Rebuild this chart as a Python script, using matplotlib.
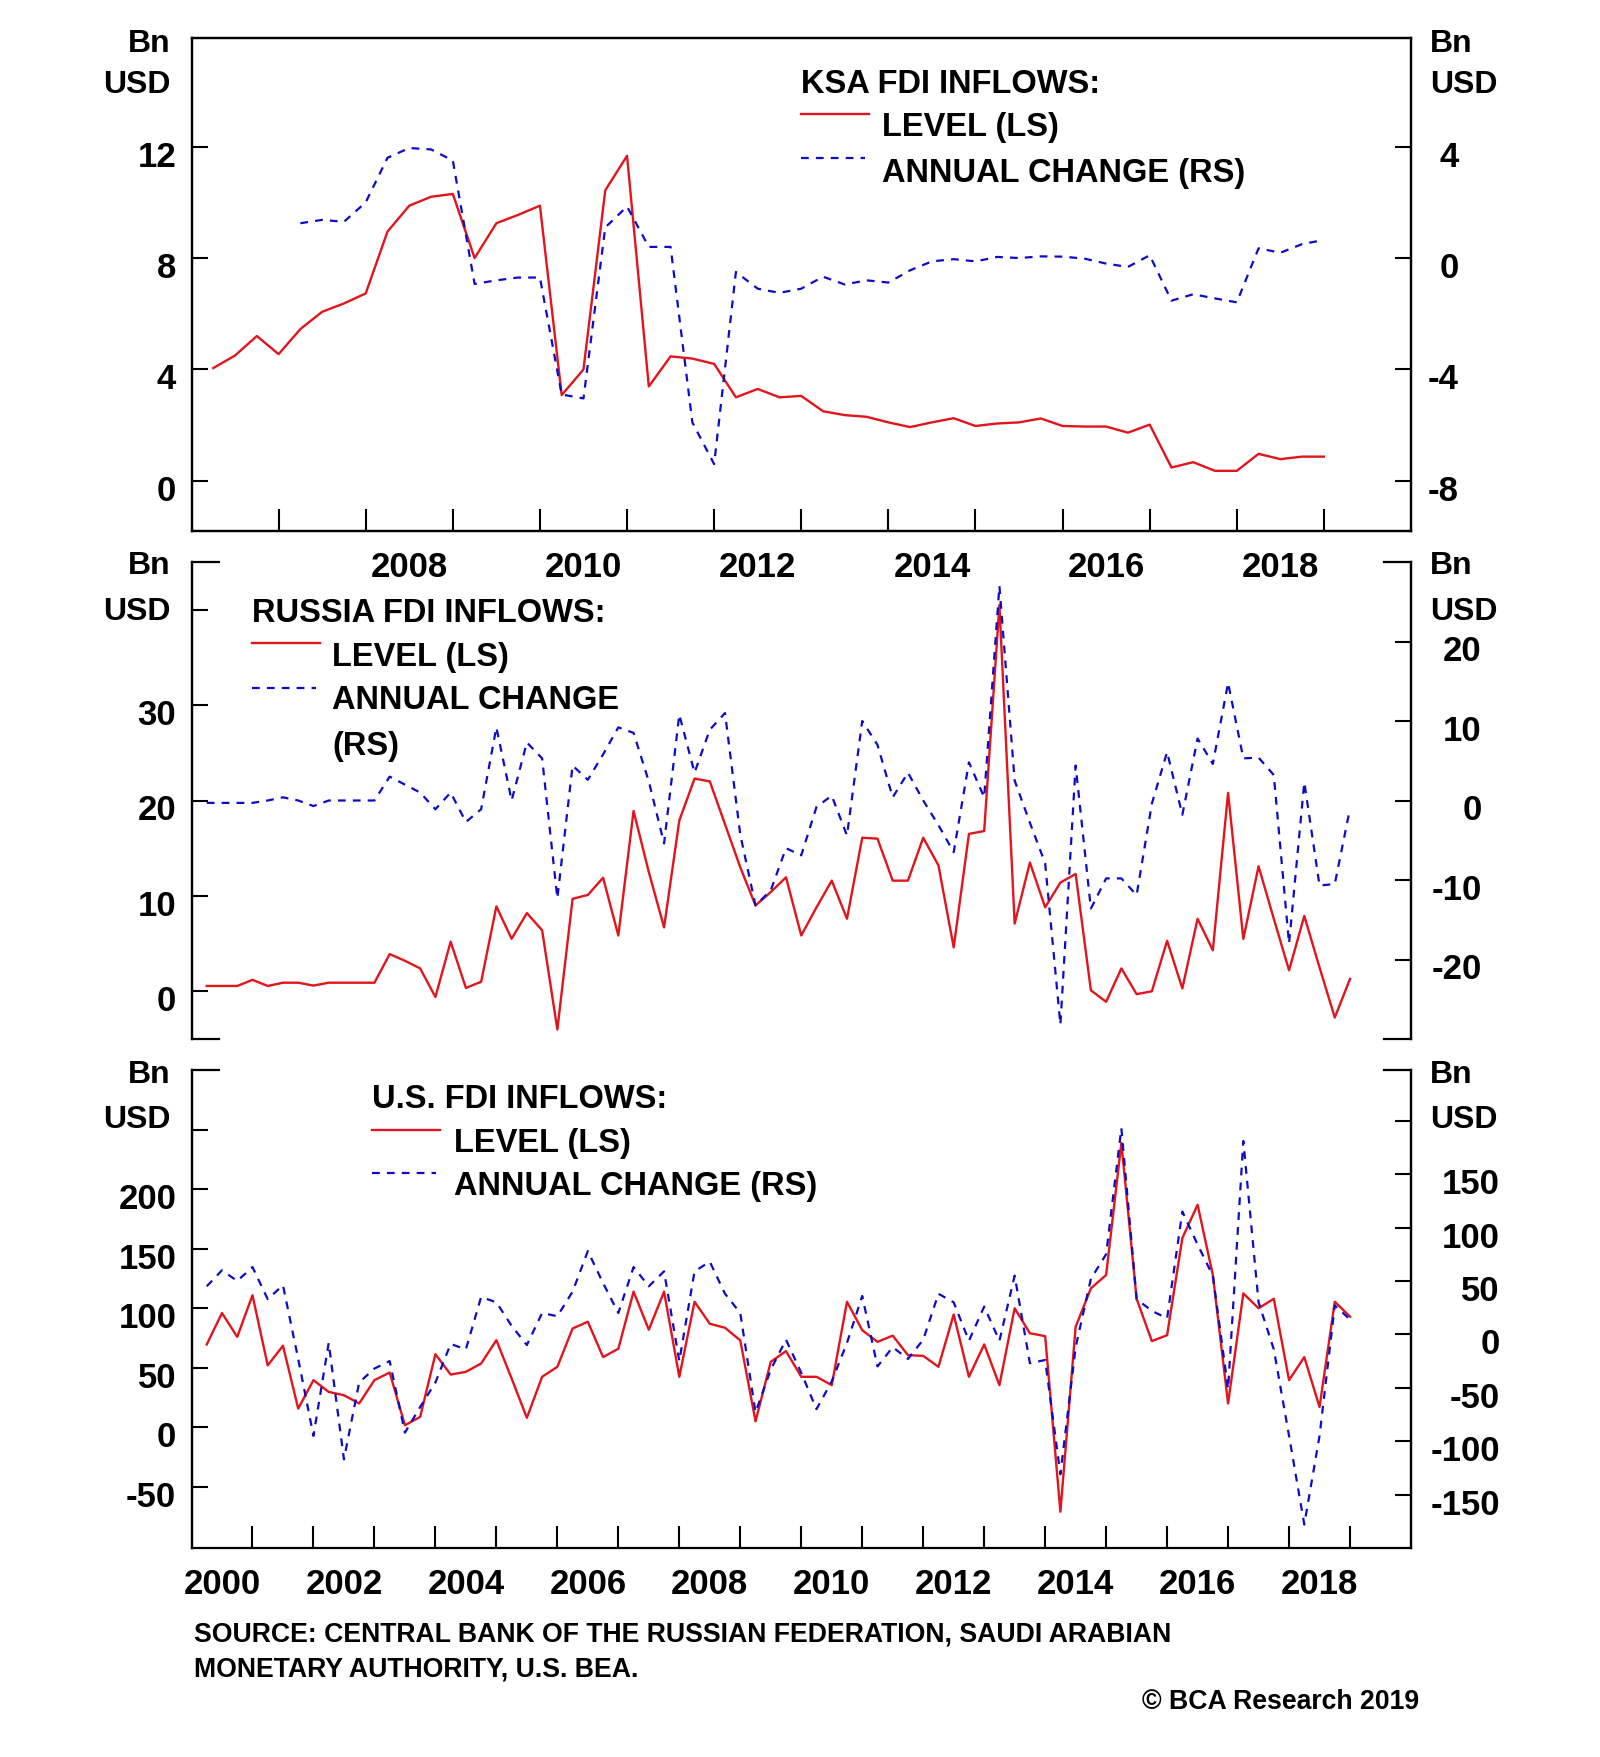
import numpy as np
import matplotlib
matplotlib.use("Agg")
import matplotlib.pyplot as plt
from matplotlib.lines import Line2D
from matplotlib.transforms import ScaledTranslation

# quarterly values, Bn USD (each row = one year, quarters 1-4)
ksa_level = [4.05, 4.5, 5.2, 4.55,
             5.45, 6.07, 6.37, 6.73,
             8.95, 9.88, 10.2, 10.3,
             8.0, 9.25, 9.55, 9.88,
             3.08, 4.0, 10.43, 11.67,
             3.39, 4.47, 4.39, 4.2,
             3.0, 3.3, 3.0, 3.05,
             2.5, 2.36, 2.3, 2.1,
             1.93, 2.1, 2.25, 1.97,
             2.06, 2.1, 2.24, 1.97,
             1.95, 1.95, 1.73, 2.02,
             0.48, 0.67, 0.36, 0.36,
             0.97, 0.78, 0.87, 0.87]
ksa_change = [1.25, 1.37, 1.3, 2.0,
              3.6, 3.95, 3.9, 3.5,
              -0.93, -0.8, -0.7, -0.7,
              -4.9, -5.04, 1.1, 1.85,
              0.4, 0.4, -5.9, -7.4,
              -0.5, -1.1, -1.25, -1.1,
              -0.67, -0.95, -0.8, -0.88,
              -0.44, -0.12, -0.04, -0.12,
              0.04, 0.0, 0.06, 0.05,
              -0.02, -0.2, -0.32, 0.1,
              -1.53, -1.3, -1.45, -1.59,
              0.35, 0.19, 0.5, 0.65]

rus_level = [0.56, 0.56, 0.56, 1.2,
             0.56, 0.9, 0.9, 0.6,
             0.9, 0.9, 0.9, 0.9,
             3.9, 3.2, 2.4, -0.6,
             5.2, 0.35, 1.0, 8.9,
             5.5, 8.2, 6.4, -4.0,
             9.7, 10.1, 11.9, 5.85,
             18.9, 12.5, 6.7, 17.9,
             22.3, 22.0, 17.5, 13.0,
             9.0, 10.4, 11.95, 5.85,
             8.8, 11.6, 7.6, 16.1,
             16.0, 11.6, 11.6, 16.1,
             13.2, 4.6, 16.5, 16.8,
             40.5, 7.1, 13.5, 8.8,
             11.4, 12.3, 0.1, -1.1,
             2.4, -0.3, 0.0, 5.3,
             0.3, 7.6, 4.3, 20.8,
             5.5, 13.1, 7.6, 2.2,
             7.9, 2.5, -2.75, 1.3]
rus_change = [-0.3, -0.3, -0.3, -0.3,
              0.0, 0.4, 0.0, -0.7,
              0.0, 0.0, 0.0, 0.0,
              3.0, 2.0, 1.0, -1.1,
              1.0, -2.7, -1.1, 9.2,
              0.0, 7.3, 5.3, -12.3,
              4.4, 2.6, 5.8, 9.2,
              8.5, 2.4, -5.4, 10.8,
              3.5, 8.9, 11.0, -4.3,
              -13.2, -11.3, -6.0, -6.9,
              -0.8, 0.6, -4.4, 10.0,
              7.0, 0.4, 3.5, 0.0,
              -3.1, -6.5, 4.8, 0.4,
              27.0, 2.5, -2.8, -7.9,
              -28.2, 4.4, -13.6, -9.8,
              -9.8, -11.9, -0.4, 6.1,
              -1.8, 7.8, 4.6, 14.8,
              5.3, 5.4, 3.2, -18.0,
              2.3, -10.7, -10.5, -1.0]

us_level = [69.6, 96, 76, 111,
            52, 68.5, 15.7, 39.6,
            29.7, 26.9, 20, 39.6,
            46, 1.7, 8.7, 61.4,
            44.3, 46.6, 53.6, 73.2,
            41, 7.9, 42.4, 50.8,
            83, 88.7, 59, 66,
            114, 82, 114, 42.4,
            105.5, 87, 83.6, 73,
            5, 55, 64, 42.4,
            42.4, 35.4, 105.5, 81.6,
            71.8, 77, 60.6, 60,
            50.8, 94.8, 42.4, 69.6,
            35.4, 100, 79, 76.6,
            -71, 84.5, 116.7, 128,
            239, 108, 72.4, 77.4,
            159, 187, 128, 20,
            112.5, 100, 108, 39.6,
            59, 17, 105.5, 93]
us_change = [45, 60, 50, 63,
             33, 46, -23, -95,
             -8, -117, -45, -32,
             -25, -92, -68, -45,
             -9, -14, 35, 30,
             8, -10, 20, 17,
             40, 78, 48, 20,
             63, 45, 59, -25,
             59, 68, 38, 20,
             -73, -33, -5, -36,
             -70, -44, -8, 36,
             -30, -12, -23, -5,
             38, 30, -6, 26,
             -6, 55, -27, -24,
             -131, -12, 52, 75,
             193, 33, 22, 15,
             115, 84, 55, -51,
             181, 30, -14, -95,
             -178, -95, 27, 14]

ksa_start, ksa_change_start = 2006, 2007
rus_start, us_start = 2000, 2000
top_years = list(range(2008, 2019, 2))
bottom_years = list(range(2000, 2019, 2))

RED = "#e2141c"
BLUE = "#0c0cc8"
DASH = (3.5, 3.2)

plt.rcParams["font.family"] = ["Liberation Sans", "DejaVu Sans"]
plt.rcParams["font.weight"] = "bold"

W, H = 1600, 1758
fig = plt.figure(figsize=(W / 100, H / 100), dpi=100)


def quarters(start, n):
    # quarter-end positions on a decimal-year axis
    return start + 0.25 * np.arange(1, n + 1)


def box(l, t, r, b):
    return [l / W, 1 - b / H, (r - l) / W, (b - t) / H]


def ftext(x, y, s, **kw):
    fig.text(x / W, 1 - y / H, s, **kw)


def fline(x0, x1, y, **kw):
    fig.add_artist(Line2D([x0 / W, x1 / W], [1 - y / H] * 2, **kw))


def panel(rect, xlim, ylim_l, ylim_r, lticks, rticks, lhide, rhide, rpad):
    ax = fig.add_axes(rect)
    ax.set_facecolor("none")  # keep the panel above's year labels visible
    ax2 = ax.twinx()
    ax.set_xlim(*xlim)
    ax.set_ylim(*ylim_l)
    ax2.set_ylim(*ylim_r)
    ax.set_yticks(lticks, ["" if t == lhide else "%g" % t for t in lticks])
    ax2.set_yticks(rticks, ["" if t == rhide else "%g" % t for t in rticks])
    for a in (ax, ax2):
        a.tick_params(axis="y", direction="in", length=11.5, width=1.5,
                      labelsize=25)
        for s in a.spines.values():
            s.set_linewidth(1.6)
    ax.tick_params(axis="y", pad=11)
    ax2.tick_params(axis="y", pad=rpad)
    return ax, ax2


def finish(ax, ax2):
    off = ScaledTranslation(0, -6 / 100, fig.dpi_scale_trans)
    for lab in ax2.get_yticklabels():
        lab.set_horizontalalignment("right")
    for lab in ax.get_yticklabels() + ax2.get_yticklabels():
        lab.set_transform(lab.get_transform() + off)


def year_axis(ax, first, last, labelled):
    ax.set_xticks(range(first, last + 1))
    ax.set_xticks([y + 0.5 for y in labelled], [str(y) for y in labelled],
                  minor=True)
    ax.tick_params(axis="x", which="major", direction="in", length=15.8,
                   width=1.5, labelbottom=False)
    ax.tick_params(axis="x", which="minor", length=0, labelsize=25, pad=13.5)


# ---- KSA ----
ax, ax2 = panel(box(191.5, 39, 1411, 532), (2006, 2020), (-1.8, 15.9),
                (-9.8, 7.9), [0, 4, 8, 12], [-8, -4, 0, 4], None, None, 34.5)
ax.plot(quarters(ksa_start, len(ksa_level)), ksa_level, color=RED, lw=1.7)
ax2.plot(quarters(ksa_change_start, len(ksa_change)), ksa_change,
         color=BLUE, lw=1.6, dashes=DASH)
year_axis(ax, 2007, 2019, top_years)
finish(ax, ax2)

# ---- Russia ----
ax, ax2 = panel(box(191.5, 563, 1411, 1040), (2000, 2020), (-5, 45),
                (-30, 30), [0, 10, 20, 30, 40], [-20, -10, 0, 10, 20],
                40, None, 51)
ax.plot(quarters(rus_start, len(rus_level)), rus_level, color=RED, lw=1.7)
ax2.plot(quarters(rus_start, len(rus_change)), rus_change,
         color=BLUE, lw=1.6, dashes=DASH)
ax.tick_params(axis="x", which="both", bottom=False, labelbottom=False)
for side in ("top", "bottom"):
    ax.spines[side].set_bounds(2000, 2000.45)
    ax2.spines[side].set_bounds(2019.55, 2020)
finish(ax, ax2)

# ---- U.S. ----
ax, ax2 = panel(box(191.5, 1071, 1411, 1549), (2000, 2020), (-101.5, 300.3),
                (-200, 247.5), [-50, 0, 50, 100, 150, 200, 250],
                [-150, -100, -50, 0, 50, 100, 150, 200], 250, 200, 64)
ax.plot(quarters(us_start, len(us_level)), us_level, color=RED, lw=1.7)
ax2.plot(quarters(us_start, len(us_change)), us_change,
         color=BLUE, lw=1.6, dashes=DASH)
ax.spines["top"].set_bounds(2000, 2000.45)
ax2.spines["top"].set_bounds(2019.55, 2020)
ax2.spines["bottom"].set_visible(False)
year_axis(ax, 2001, 2019, bottom_years)
finish(ax, ax2)

# ---- units ----
for y_bn, y_usd in ((52, 93), (574, 620), (1083, 1128)):
    for x, ha in ((171, "right"), (1430, "left")):
        ftext(x, y_bn, "Bn", ha=ha, va="baseline", fontsize=23)
        ftext(x, y_usd, "USD", ha=ha, va="baseline", fontsize=23)

# ---- legends ----
def legend(x, y_title, rows, text_x):
    ftext(x, y_title + 11.7, rows[0], va="baseline", fontsize=23.5)
    ry, ty = rows[1]
    fline(x, x + 68, ry, color=RED, lw=1.7)
    ftext(text_x, ty + 11.7, "LEVEL (LS)", va="baseline", fontsize=23.5)
    by, lines = rows[2]
    fline(x, x + 64, by, color=BLUE, lw=1.6, dashes=DASH)
    for line_y, s in lines:
        ftext(text_x, line_y + 11.7, s, va="baseline", fontsize=23.5)


legend(801, 81.6, ["KSA FDI INFLOWS:", (115, 124),
                   (159, [(170, "ANNUAL CHANGE (RS)")])], 882)
legend(252, 610, ["RUSSIA FDI INFLOWS:", (644, 654),
                  (689, [(697.5, "ANNUAL CHANGE"), (743, "(RS)")])], 332)
legend(372, 1096, ["U.S. FDI INFLOWS:", (1131, 1140),
                   (1174, [(1183, "ANNUAL CHANGE (RS)")])], 454)

# ---- footer ----
ftext(193.7, 1641.3,
      "SOURCE: CENTRAL BANK OF THE RUSSIAN FEDERATION, SAUDI ARABIAN",
      va="baseline", fontsize=19.2)
ftext(193.7, 1677, "MONETARY AUTHORITY, U.S. BEA.", va="baseline",
      fontsize=19.2)
ftext(1419.6, 1708.6, "\u00a9 BCA Research 2019", ha="right", va="baseline",
      fontsize=19.2)

fig.savefig("out.png", dpi=100, facecolor="white")
